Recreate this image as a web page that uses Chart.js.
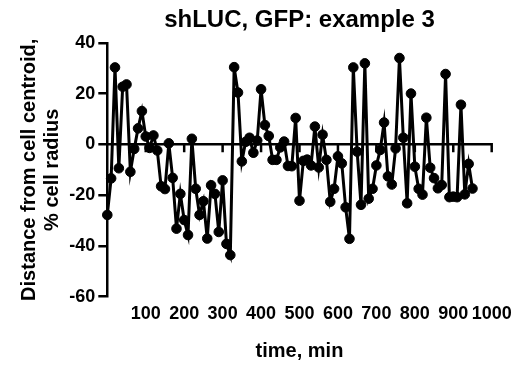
<!DOCTYPE html>
<html>
<head>
<meta charset="utf-8">
<script src="https://cdn.jsdelivr.net/npm/chart.js@4.4.1/dist/chart.umd.min.js"></script>
<style>
  html, body { margin: 0; padding: 0; background: #ffffff; }
  #wrap { width: 523px; height: 371px; position: relative; }
</style>
</head>
<body>
<div id="wrap"><canvas id="chart"></canvas></div>
<script>
// Text
const chartTitle = 'shLUC, GFP: example 3';
const xTitle = 'time, min';
const yTitle = ['Distance from cell centroid,', '% cell radius'];

// Sampling times (min)
const timeMin = [
  0, 10, 20, 30, 40, 50, 60, 70, 80, 90,
  100, 110, 120, 130, 140, 150, 160, 170, 180, 190,
  200, 210, 220, 230, 240, 250, 260, 270, 280, 290,
  300, 310, 320, 330, 340, 350, 360, 370, 380, 390,
  400, 410, 420, 430, 440, 450, 460, 470, 480, 490,
  500, 510, 520, 530, 540, 550, 560, 570, 580, 590,
  600, 610, 620, 630, 640, 650, 660, 670, 680, 690,
  700, 710, 720, 730, 740, 750, 760, 770, 780, 790,
  800, 810, 820, 830, 840, 850, 860, 870, 880, 890,
  900, 910, 920, 930, 940, 950
];

// Distance from cell centroid (% cell radius)
const distance = [
  -27.8, -13.4, 30.3, -9.4, 22.7, 23.6, -10.8, -1.8, 6.3, 13.1,
  3.1, -1.4, 3.5, -2.4, -16.5, -17.6, 0.4, -13.2, -33.2, -19.5,
  -29.8, -35.7, 2.2, -17.5, -27.8, -22.4, -37.1, -16.1, -19.5, -34.5,
  -14.2, -39.2, -43.6, 30.4, 20.4, -6.7, 1.0, 2.6, -3.3, 1.5,
  21.7, 7.6, 3.3, -6.1, -6.1, -1.2, 1.1, -8.5, -8.6, 10.4,
  -22.2, -6.5, -6.0, -8.3, 7.0, -9.1, 3.8, -6.1, -22.6, -17.5,
  -4.7, -7.5, -24.8, -37.2, 30.3, -2.9, -23.8, 31.9, -21.4, -17.5,
  -8.3, -2.2, 8.6, -12.6, -15.8, -1.6, 34.0, 2.6, -23.2, 20.0,
  -8.8, -17.5, -19.8, 10.5, -9.2, -13.3, -17.3, -16.0, 27.7, -20.8,
  -20.6, -20.8, 15.6, -19.7, -7.7, -17.4
];

// Axis ticks
const xTicks = [100, 200, 300, 400, 500, 600, 700, 800, 900, 1000];
const yTicks = [-60, -40, -20, 0, 20, 40];

const FONT = "'Liberation Sans', Arial, Helvetica, sans-serif";

// Horizontal axis line at y = 0 with downward tick marks
const zeroAxis = {
  id: 'zeroAxis',
  beforeDatasetsDraw(chart) {
    const { ctx, scales: { x, y } } = chart;
    const y0 = y.getPixelForValue(0);
    const xa = x.getPixelForValue(0);
    const xb = x.getPixelForValue(1000);
    ctx.save();
    ctx.strokeStyle = '#000';
    ctx.lineWidth = 2.5;
    ctx.lineCap = 'butt';
    ctx.beginPath();
    ctx.moveTo(xa, y0);
    ctx.lineTo(xb + 1.25, y0);
    xTicks.forEach(v => {
      const px = x.getPixelForValue(v);
      ctx.moveTo(px, y0);
      ctx.lineTo(px, y0 + 8);
    });
    ctx.stroke();
    ctx.restore();
  }
};

new Chart(document.getElementById('chart'), {
  type: 'scatter',
  data: {
    datasets: [{
      data: timeMin.map((t, i) => ({ x: t, y: distance[i] })),
      showLine: true,
      borderColor: '#000',
      borderWidth: 3,
      backgroundColor: '#000',
      pointBackgroundColor: '#000',
      pointBorderColor: '#000',
      pointBorderWidth: 1,
      pointRadius: 4.8,
      tension: 0,
      clip: false
    }]
  },
  options: {
    responsive: true,
    maintainAspectRatio: false,
    animation: false,
    events: [],
    layout: { padding: { left: 8, right: 31.3, top: 4, bottom: 4 } },
    plugins: {
      legend: { display: false },
      tooltip: { enabled: false },
      title: {
        display: true,
        text: chartTitle,
        fullSize: false,
        color: '#000',
        font: { family: FONT, size: 24, weight: 'bold', lineHeight: 1.2 },
        padding: { top: 2, bottom: 8 }
      }
    },
    scales: {
      x: {
        type: 'linear',
        position: 'bottom',
        min: 0,
        max: 1000,
        afterBuildTicks(scale) { scale.ticks = xTicks.map(v => ({ value: v })); },
        afterFit(scale) { scale.height = 70.3; },
        grid: { display: false, drawTicks: false },
        border: { display: false },
        ticks: {
          autoSkip: false,
          maxRotation: 0,
          color: '#000',
          padding: 7,
          callback: v => String(v),
          font: { family: FONT, size: 18, weight: 'bold' }
        },
        title: {
          display: true,
          text: xTitle,
          color: '#000',
          font: { family: FONT, size: 20, weight: 'bold', lineHeight: 1.2 },
          padding: { top: 14, bottom: 4 }
        }
      },
      y: {
        min: -60,
        max: 40,
        afterBuildTicks(scale) { scale.ticks = yTicks.map(v => ({ value: v })); },
        afterFit(scale) { scale.width = 99.3; },
        border: { display: true, color: '#000', width: 2.5 },
        grid: {
          display: true,
          drawOnChartArea: false,
          drawTicks: true,
          tickLength: 9,
          lineWidth: 2.5,
          color: '#000'
        },
        ticks: {
          color: '#000',
          padding: 3,
          callback: v => String(v),
          font: { family: FONT, size: 18, weight: 'bold' }
        },
        title: {
          display: true,
          text: yTitle,
          color: '#000',
          font: { family: FONT, size: 20, weight: 'bold', lineHeight: 1.15 },
          padding: { top: 9.5, bottom: 4 }
        }
      }
    }
  },
  plugins: [zeroAxis]
});
</script>
</body>
</html>
